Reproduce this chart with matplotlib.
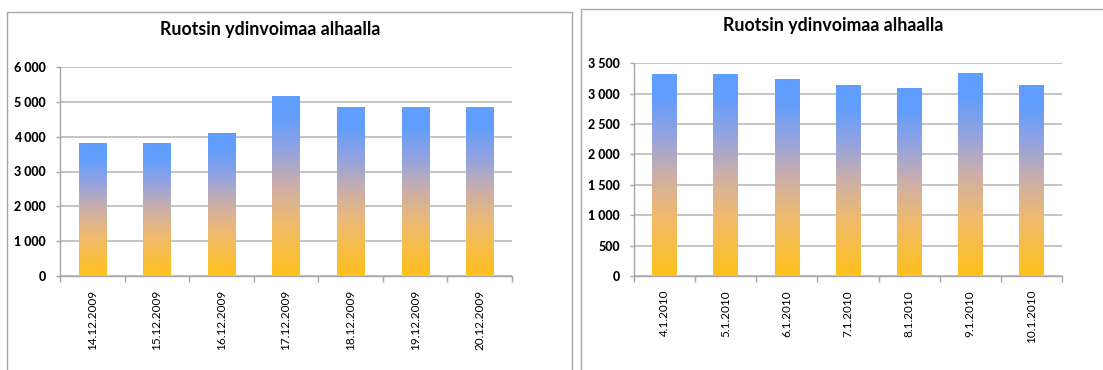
import matplotlib
matplotlib.use("Agg")
import matplotlib.pyplot as plt
import numpy as np
from matplotlib.colors import LinearSegmentedColormap
from matplotlib.patches import Rectangle

title = "Ruotsin ydinvoimaa alhaalla"
dates_dec = ["14.12.2009", "15.12.2009", "16.12.2009", "17.12.2009",
             "18.12.2009", "19.12.2009", "20.12.2009"]
values_dec = [3790, 3790, 4100, 5140, 4850, 4850, 4850]
dates_jan = ["4.1.2010", "5.1.2010", "6.1.2010", "7.1.2010",
             "8.1.2010", "9.1.2010", "10.1.2010"]
values_jan = [3310, 3310, 3230, 3130, 3080, 3330, 3130]

FONT = "Lato"
plt.rcParams['font.family'] = [FONT, 'DejaVu Sans']

cmap = LinearSegmentedColormap.from_list(
    "grad", [(0.0, "#FFC11C"), (0.3, "#EFBA6E"), (0.5, "#CDAFA8"),
             (0.7, "#92A3E0"), (0.88, "#639EFC"), (1.0, "#5E9EFF")])

fig = plt.figure(figsize=(11.03, 3.70), dpi=100)
W, H = 1103, 370

def fx(px):
    return px / W

def fy(py):
    return 1 - py / H

# frames
fig.patches.append(Rectangle((fx(7), fy(372)), fx(572 - 7), (372 - 12) / H,
                             transform=fig.transFigure, fill=False,
                             edgecolor="#A6A6A6", lw=1.0))
fig.patches.append(Rectangle((fx(581), fy(372)), fx(1110 - 581), (372 - 9) / H,
                             transform=fig.transFigure, fill=False,
                             edgecolor="#A6A6A6", lw=1.0))

def fmt(v):
    return f"{int(v):,}".replace(",", " ")

def draw(ax, cats, vals, ymax, step, width):
    x = np.arange(len(cats))
    bars = ax.bar(x, vals, width=width, color="none", zorder=3)
    grad = np.linspace(0, 1, 256).reshape(-1, 1)
    for b in bars:
        x0 = b.get_x()
        h = b.get_height()
        ax.imshow(grad, extent=[x0, x0 + b.get_width(), 0, h], origin="lower",
                  aspect="auto", cmap=cmap, zorder=3, interpolation="bilinear")
    ax.set_xlim(-0.5, len(cats) - 0.5)
    ax.set_ylim(0, ymax)
    ax.set_aspect("auto")
    yt = np.arange(0, ymax + 1, step)
    ax.set_yticks(yt)
    ax.set_yticklabels([fmt(v) for v in yt])
    ax.set_xticks(x)
    ax.set_xticklabels(cats)
    ax.set_xticks(np.arange(-0.5, len(cats)), minor=True)
    ax.tick_params(axis="x", which="major", length=0, pad=10)
    ax.tick_params(axis="x", which="minor", length=4, color="#A6A6A6", width=1)
    ax.tick_params(axis="y", length=3, color="#A6A6A6", width=1, pad=7)
    ax.grid(axis="y", color="#BFBFBF", lw=1.3, zorder=0)
    ax.set_axisbelow(True)
    for s in ["top", "right"]:
        ax.spines[s].set_visible(False)
    for s in ["left", "bottom"]:
        ax.spines[s].set_color("#A6A6A6")
        ax.spines[s].set_linewidth(1.0)
    plt.setp(ax.get_yticklabels(), fontweight="black", fontsize=9)
    plt.setp(ax.get_xticklabels(), rotation=90, fontsize=8.5)

ax1 = fig.add_axes([fx(60), fy(276), fx(512 - 60), (276 - 67) / H])
draw(ax1, dates_dec, values_dec, 6000, 1000, 0.42)
ax2 = fig.add_axes([fx(634), fy(276), fx(1062 - 634), (276 - 63.3) / H])
draw(ax2, dates_jan, values_jan, 3500, 500, 0.40)

fig.text(fx(270), fy(30), title, ha="center", va="center",
         fontsize=12.8, fontweight="bold")
fig.text(fx(833), fy(26), title, ha="center", va="center",
         fontsize=12.8, fontweight="bold")

fig.savefig("out.png", dpi=100)
